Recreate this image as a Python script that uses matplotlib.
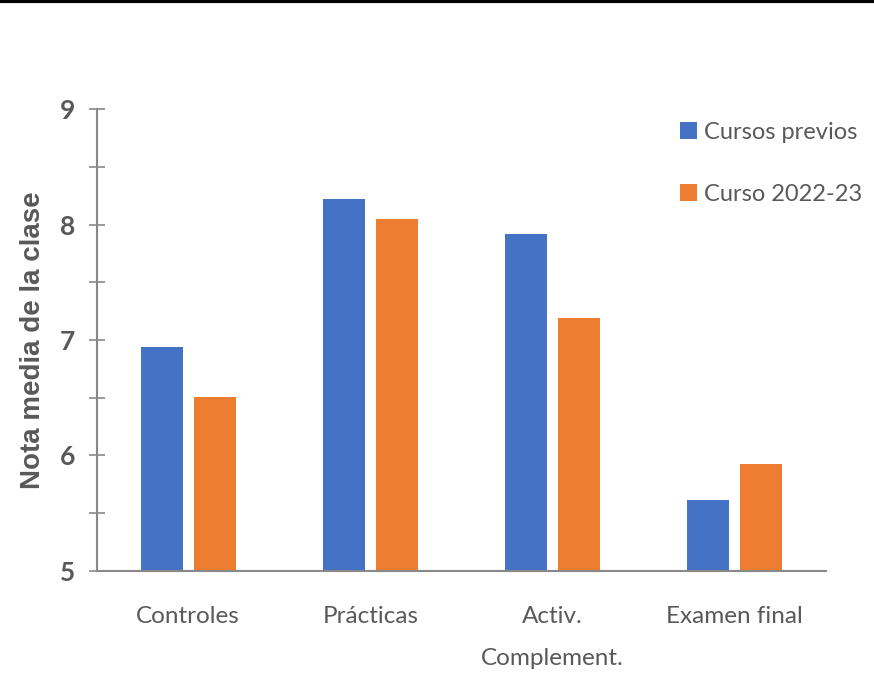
import matplotlib
matplotlib.use("Agg")
import matplotlib.pyplot as plt
import numpy as np
from matplotlib.lines import Line2D

# values
categorias = ["Controles", "Prácticas", "Activ.\nComplement.", "Examen final"]
cursos_previos = [6.94, 8.22, 7.92, 5.61]
curso_2022 = [6.51, 8.05, 7.19, 5.93]

azul = "#4472C4"
naranja = "#ED7D31"
gris = "#595959"

plt.rcParams["font.family"] = ["Lato", "DejaVu Sans"]

fig = plt.figure(figsize=(8.74, 6.74), dpi=100)
ax = fig.add_axes([0.111, 0.153, 0.834, 0.685])

x = np.arange(len(categorias))
ax.bar(x - 0.145, cursos_previos, 0.23, color=azul, label="Cursos previos")
ax.bar(x + 0.145, curso_2022, 0.23, color=naranja, label="Curso 2022-23")

ax.set_xlim(-0.5, 3.5)
ax.set_ylim(5, 9)
ax.set_yticks([5, 6, 7, 8, 9])
ax.set_yticks(np.arange(5.5, 9, 1), minor=True)
ax.set_xticks(x)
ax.set_xticklabels(categorias, fontsize=17.5, color=gris, linespacing=2.25)

for s in ["top", "right"]:
    ax.spines[s].set_visible(False)
for s in ["left", "bottom"]:
    ax.spines[s].set_color("#898989")
    ax.spines[s].set_linewidth(1.5)

ax.tick_params(axis="y", which="both", direction="inout", length=12, width=1.2,
               color="#898989", labelsize=19, labelcolor=gris, pad=10)
ax.tick_params(axis="x", length=0, pad=25)
for t in ax.get_yticklabels():
    t.set_fontweight("bold")

ax.set_ylabel("Nota media de la clase", fontsize=20, fontweight="bold",
              color=gris, labelpad=10, family="Liberation Sans")

ax.legend(loc="upper left", bbox_to_anchor=(0.754, 0.851), bbox_transform=fig.transFigure,
          frameon=False, fontsize=17, handlelength=0.7, handleheight=0.7,
          handletextpad=0.3, labelspacing=1.75, labelcolor=gris)

# black rule along the top edge
fig.add_artist(Line2D([0, 1], [0.998, 0.998], transform=fig.transFigure,
                      color="black", linewidth=3))

fig.savefig("out.png", dpi=100)
